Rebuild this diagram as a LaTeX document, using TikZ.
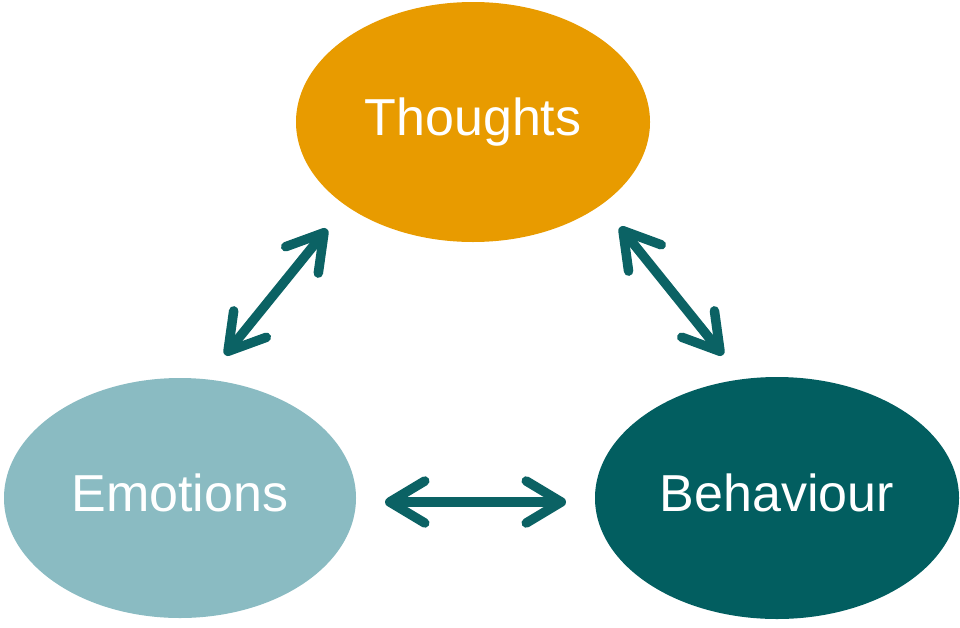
\documentclass[tikz,border=0pt]{standalone}
\usepackage{fontspec}
\setmainfont{Liberation Sans}
\usetikzlibrary{shapes.geometric,arrows.meta}
\definecolor{thoC}{HTML}{E89B00}
\definecolor{emoC}{HTML}{8ABBC2}
\definecolor{behC}{HTML}{025E60}
\definecolor{arrC}{HTML}{0B6264}
\tikzset{
  bubble/.style={ellipse, draw=none, inner sep=0pt, text=white,
    font=\fontsize{52}{60}\selectfont, text height=38pt, text depth=11pt,
    minimum width=354pt, minimum height=240pt},
  dbl/.style={draw=arrC, line width=9.5pt, line cap=round,
    {Straight Barb[length=35pt, width=42pt, round]}-{Straight Barb[length=35pt, width=42pt, round]}}
}
\begin{document}
\begin{tikzpicture}[x=1pt,y=-1pt]
\useasboundingbox (0,0) rectangle (960,627);
\node[bubble, fill=thoC] (tho) at (473,122) {Thoughts};
\node[bubble, fill=emoC, minimum width=352pt] (emo) at (180,498) {Emotions};
\node[bubble, fill=behC, minimum width=364pt, minimum height=242pt] (beh) at (777,498) {Behaviour};
\coordinate (el) at (225,355);
\coordinate (tl) at (327,229);
\coordinate (tr) at (620,227);
\coordinate (br) at (723,355);
\coordinate (eb) at (385,502);
\coordinate (bb) at (566,502);
\draw[dbl] (el) -- (tl);
\draw[dbl] (tr) -- (br);
\draw[dbl] (eb) -- (bb);
\end{tikzpicture}
\end{document}
